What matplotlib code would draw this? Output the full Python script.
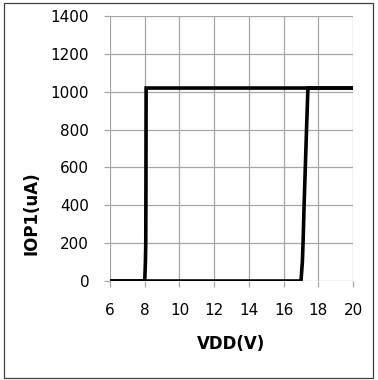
import matplotlib
matplotlib.use('Agg')
import matplotlib.pyplot as plt
from matplotlib.patches import Rectangle

matplotlib.rcParams.update({'font.size': 11, 'font.family': ['DejaVu Sans']})

# rising VDD sweep
vdd_up = [6, 8, 10, 12, 14, 16, 17.0, 17.08, 17.12, 17.18, 17.25, 17.32, 17.4, 18, 20]
iop_up = [0, 0, 0, 0, 0, 0, 0, 100, 200, 400, 600, 800, 1020, 1020, 1020]

# falling VDD sweep
vdd_down = [20, 18, 16, 14, 12, 10, 8.08, 8.07, 8.06, 8.04, 8.0, 6]
iop_down = [1020, 1020, 1020, 1020, 1020, 1020, 1020, 500, 200, 100, 0, 0]

x_ticks = [6, 8, 10, 12, 14, 16, 18, 20]
y_ticks = [0, 200, 400, 600, 800, 1000, 1200, 1400]

fig = plt.figure(figsize=(3.78, 3.80), dpi=100)
ax = fig.add_axes([0.291, 0.2605, 0.643, 0.697])

ax.plot(vdd_up, iop_up, color='black', lw=2.6, solid_joinstyle='miter')
ax.plot(vdd_down, iop_down, color='black', lw=2.6, solid_joinstyle='miter')

ax.set_xlim(6, 20)
ax.set_ylim(0, 1400)
ax.set_xticks(x_ticks)
ax.set_yticks(y_ticks)
ax.grid(True, color='#a6a6a6', lw=0.9)
ax.set_axisbelow(True)
for s in ax.spines.values():
    s.set_visible(False)
ax.tick_params(length=4, width=0.9, color='#a6a6a6', labelsize=11)
ax.tick_params(axis='x', pad=11.5)
ax.tick_params(axis='y', pad=11)

ax.set_xlabel('VDD(V)', fontweight='bold', fontsize=12)
ax.set_ylabel('IOP1(uA)', fontweight='bold', fontsize=12)
ax.xaxis.label.set_va('center')
ax.yaxis.label.set_va('center')
ax.xaxis.set_label_coords(0.5, -0.236)
ax.yaxis.set_label_coords(-0.321, 0.255)

fig.patches.append(Rectangle((0.0106, 0.0053), 0.976, 0.987, transform=fig.transFigure,
                             fill=False, edgecolor='#404040', lw=0.9))

fig.savefig('out.png', dpi=100)
